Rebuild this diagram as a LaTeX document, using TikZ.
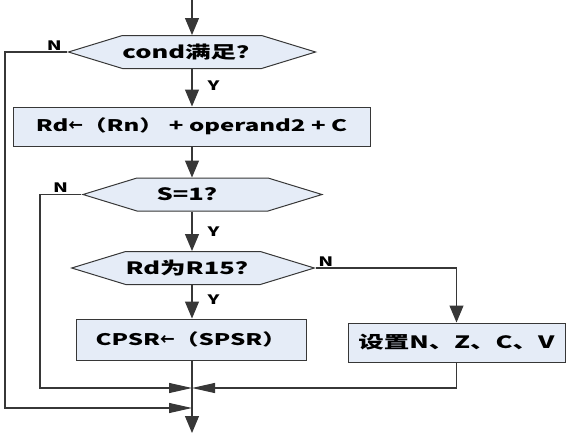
\documentclass[tikz,border=0pt]{standalone}
\usepackage{fontspec}
\newfontfamily\cjkfont{Noto Sans CJK SC}[FakeStretch=1.5]
\usetikzlibrary{shapes.symbols,arrows.meta}

\definecolor{boxblue}{RGB}{229,236,247}
\definecolor{linegray}{RGB}{55,55,55}

\newcommand{\getsarrow}{\scalebox{0.6}[1]{←}}

\tikzset{
  flow/.style={draw=linegray, line width=1pt, fill=boxblue, inner sep=0pt,
    font=\cjkfont\bfseries\fontsize{17}{20}\selectfont},
  procbox/.style={flow, rectangle},
  decision/.style={flow, signal, signal to=west and east,
    signal pointer angle=34, minimum height=33pt},
  lbl/.style={font=\cjkfont\bfseries\fontsize{13}{15}\selectfont, inner sep=1pt},
  link/.style={draw=linegray, line width=1.1pt},
  varr/.style={link, -{Triangle[width=14pt,length=17pt]}},
  harr/.style={link, -{Triangle[width=10pt,length=23pt]}}
}

\begin{document}
\begin{tikzpicture}[x=1pt, y=-1pt]
  \useasboundingbox (0,0) rectangle (567,437);

  % decisions and steps
  \node[decision, minimum width=240pt] (cond) at (192,52) {cond满足？};
  \node[procbox, minimum width=357pt, minimum height=39pt,
        font=\cjkfont\bfseries\fontsize{16}{19}\selectfont] (calc) at (191.5,126.5)
       {Rd\getsarrow（Rn）\ +\ operand2\ +\ C};
  \node[decision, minimum width=239pt] (sbit) at (202.5,194.5) {\hspace{-19pt}S=1？};
  \node[decision, minimum width=240pt] (rd15) at (193,268) {Rd为R15？};
  \node[procbox, minimum width=230pt, minimum height=41pt,
        font=\cjkfont\bfseries\fontsize{16}{19}\selectfont] (cpsr) at (191,339.5)
       {CPSR\getsarrow（SPSR）};
  \node[procbox, minimum width=217pt, minimum height=39pt] (flags) at (456.5,342.5)
       {设置N、Z、C、V};

  \coordinate (in) at (192,0);
  \coordinate (out) at (192,433);
  \coordinate (join1) at (192,388);
  \coordinate (join2) at (192,408);
  \coordinate (outerN) at (5,0);
  \coordinate (innerN) at (40,0);

  % main line
  \draw[varr] (in) -- (cond.north -| in);
  \draw[varr] (cond.south -| in) -- node[lbl, right=14pt, pos=0.45] {Y} (calc.north -| in);
  \draw[varr] (calc.south -| in) -- (sbit.north -| in);
  \draw[varr] (sbit.south -| in) -- node[lbl, right=14pt, pos=0.5] {Y} (rd15.north -| in);
  \draw[varr] (rd15.south -| in) -- node[lbl, right=14pt, pos=0.45] {Y} (cpsr.north -| in);
  \draw[varr] (cpsr.south -| in) -- (out);

  % N branches
  \draw[harr] (cond.west) -- node[lbl, above, pos=0.2] {N} (cond.west -| outerN) |- (join2);
  \draw[harr] (sbit.west) -- node[lbl, above, pos=0.5] {N} (sbit.west -| innerN) |- (join1);
  \draw[varr] (rd15.east) -- node[lbl, above, pos=0.07] {N} (rd15.east -| flags) -- (flags.north);
  \draw[harr] (flags.south) |- (join1);
\end{tikzpicture}
\end{document}
